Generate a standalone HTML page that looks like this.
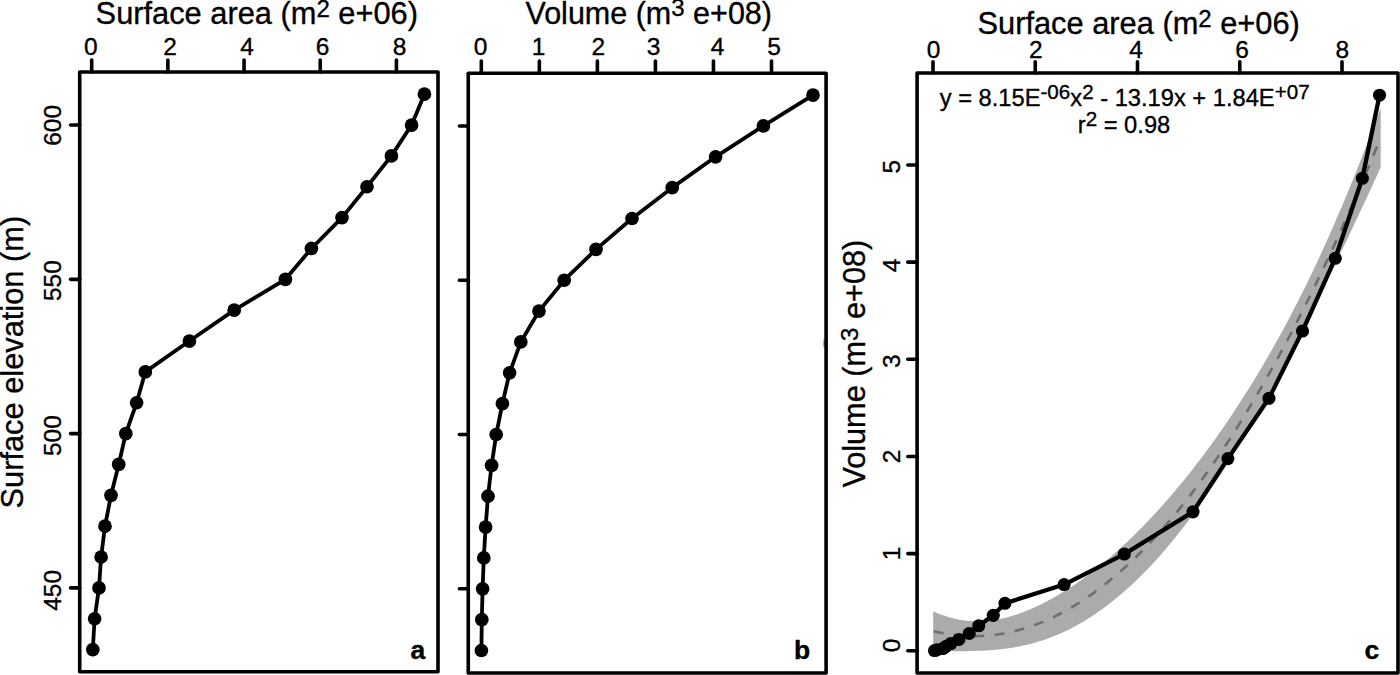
<!DOCTYPE html>
<html><head><meta charset="utf-8"><title>Figure</title>
<style>html,body{margin:0;padding:0;background:#fff;width:1400px;height:675px;overflow:hidden;font-family:"Liberation Sans", sans-serif;}text{stroke:#000;stroke-width:.35px;stroke-linejoin:round}</style></head>
<body>
<svg width="1400" height="675" viewBox="0 0 1400 675" style="position:absolute;left:0;top:0;display:block" font-family='"Liberation Sans", sans-serif' fill="#000">
<rect x="0" y="0" width="1400" height="675" fill="#fff"/>
<polygon points="933.20,611.52 936.96,613.10 940.72,614.54 944.48,615.85 948.24,617.02 952.00,618.06 955.76,618.95 959.52,619.70 963.28,620.31 967.04,620.78 970.81,621.10 974.57,621.28 978.33,621.32 982.09,621.21 985.85,620.98 989.61,620.60 993.37,620.10 997.13,619.47 1000.89,618.73 1004.65,617.88 1008.41,616.92 1012.17,615.85 1015.93,614.67 1019.69,613.39 1023.45,612.02 1027.21,610.55 1030.97,608.98 1034.73,607.32 1038.49,605.58 1042.25,603.75 1046.02,601.84 1049.78,599.84 1053.54,597.76 1057.30,595.60 1061.06,593.36 1064.82,591.04 1068.58,588.65 1072.34,586.18 1076.10,583.63 1079.86,581.01 1083.62,578.31 1087.38,575.54 1091.14,572.69 1094.90,569.77 1098.66,566.78 1102.42,563.73 1106.18,560.61 1109.94,557.42 1113.70,554.16 1117.46,550.82 1121.23,547.42 1124.99,543.94 1128.75,540.39 1132.51,536.76 1136.27,533.07 1140.03,529.30 1143.79,525.46 1147.55,521.55 1151.31,517.57 1155.07,513.54 1158.83,509.43 1162.59,505.25 1166.35,501.00 1170.11,496.67 1173.87,492.27 1177.63,487.80 1181.39,483.25 1185.15,478.63 1188.91,473.93 1192.67,469.16 1196.44,464.32 1200.20,459.40 1203.96,454.40 1207.72,449.32 1211.48,444.17 1215.24,438.93 1219.00,433.62 1222.76,428.23 1226.52,422.75 1230.28,417.20 1234.04,411.56 1237.80,405.83 1241.56,400.02 1245.32,394.12 1249.08,388.13 1252.84,382.05 1256.60,375.89 1260.36,369.63 1264.12,363.28 1267.88,356.82 1271.65,350.26 1275.41,343.59 1279.17,336.82 1282.93,329.93 1286.69,322.93 1290.45,315.82 1294.21,308.59 1297.97,301.23 1301.73,293.77 1305.49,286.21 1309.25,278.52 1313.01,270.69 1316.77,262.75 1320.53,254.67 1324.29,246.45 1328.05,238.11 1331.81,229.64 1335.57,221.04 1339.33,212.31 1343.09,203.45 1346.86,194.46 1350.62,185.34 1354.38,176.10 1358.14,166.73 1361.90,157.24 1365.66,147.62 1369.42,137.88 1373.18,128.03 1376.94,118.05 1380.70,107.95 1380.70,167.25 1376.94,175.52 1373.18,183.74 1369.42,191.91 1365.66,200.03 1361.90,208.09 1358.14,216.11 1354.38,224.08 1350.62,232.01 1346.86,239.89 1343.09,247.73 1339.33,255.52 1335.57,263.27 1331.81,270.98 1328.05,278.65 1324.29,286.28 1320.53,293.87 1316.77,301.41 1313.01,308.92 1309.25,316.38 1305.49,323.80 1301.73,331.18 1297.97,338.49 1294.21,345.73 1290.45,352.93 1286.69,360.07 1282.93,367.16 1279.17,374.19 1275.41,381.15 1271.65,388.06 1267.88,394.90 1264.12,401.67 1260.36,408.37 1256.60,414.99 1252.84,421.54 1249.08,428.02 1245.32,434.43 1241.56,440.75 1237.80,446.99 1234.04,453.15 1230.28,459.22 1226.52,465.20 1222.76,471.10 1219.00,476.90 1215.24,482.62 1211.48,488.24 1207.72,493.77 1203.96,499.21 1200.20,504.55 1196.44,509.79 1192.67,514.95 1188.91,520.00 1185.15,524.96 1181.39,529.83 1177.63,534.59 1173.87,539.26 1170.11,543.83 1166.35,548.30 1162.59,552.68 1158.83,556.95 1155.07,561.13 1151.31,565.21 1147.55,569.17 1143.79,573.03 1140.03,576.79 1136.27,580.46 1132.51,584.02 1128.75,587.48 1124.99,590.84 1121.23,594.11 1117.46,597.27 1113.70,600.34 1109.94,603.30 1106.18,606.17 1102.42,608.94 1098.66,611.62 1094.90,614.21 1091.14,616.70 1087.38,619.10 1083.62,621.40 1079.86,623.60 1076.10,625.71 1072.34,627.72 1068.58,629.63 1064.82,631.45 1061.06,633.18 1057.30,634.81 1053.54,636.35 1049.78,637.80 1046.02,639.16 1042.25,640.43 1038.49,641.62 1034.73,642.72 1030.97,643.74 1027.21,644.67 1023.45,645.53 1019.69,646.31 1015.93,647.02 1012.17,647.66 1008.41,648.23 1004.65,648.75 1000.89,649.20 997.13,649.59 993.37,649.92 989.61,650.20 985.85,650.45 982.09,650.65 978.33,650.83 974.57,650.97 970.81,651.08 967.04,651.16 963.28,651.21 959.52,651.24 955.76,651.24 952.00,651.20 948.24,651.14 944.48,651.05 940.72,650.92 936.96,650.75 933.20,650.54" fill="#ababab"/>
<polyline points="933.20,631.03 936.96,631.92 940.72,632.73 944.48,633.45 948.24,634.08 952.00,634.63 955.76,635.09 959.52,635.47 963.28,635.76 967.04,635.97 970.81,636.09 974.57,636.12 978.33,636.07 982.09,635.93 985.85,635.71 989.61,635.40 993.37,635.01 997.13,634.53 1000.89,633.96 1004.65,633.31 1008.41,632.58 1012.17,631.75 1015.93,630.85 1019.69,629.85 1023.45,628.77 1027.21,627.61 1030.97,626.36 1034.73,625.02 1038.49,623.60 1042.25,622.09 1046.02,620.50 1049.78,618.82 1053.54,617.06 1057.30,615.21 1061.06,613.27 1064.82,611.25 1068.58,609.14 1072.34,606.95 1076.10,604.67 1079.86,602.30 1083.62,599.85 1087.38,597.32 1091.14,594.70 1094.90,591.99 1098.66,589.20 1102.42,586.33 1106.18,583.39 1109.94,580.36 1113.70,577.25 1117.46,574.05 1121.23,570.76 1124.99,567.39 1128.75,563.93 1132.51,560.39 1136.27,556.76 1140.03,553.05 1143.79,549.25 1147.55,545.36 1151.31,541.39 1155.07,537.33 1158.83,533.19 1162.59,528.96 1166.35,524.65 1170.11,520.25 1173.87,515.77 1177.63,511.19 1181.39,506.54 1185.15,501.80 1188.91,496.97 1192.67,492.06 1196.44,487.06 1200.20,481.97 1203.96,476.80 1207.72,471.54 1211.48,466.20 1215.24,460.78 1219.00,455.26 1222.76,449.66 1226.52,443.98 1230.28,438.21 1234.04,432.35 1237.80,426.41 1241.56,420.39 1245.32,414.27 1249.08,408.07 1252.84,401.80 1256.60,395.44 1260.36,389.00 1264.12,382.47 1267.88,375.86 1271.65,369.16 1275.41,362.37 1279.17,355.50 1282.93,348.54 1286.69,341.50 1290.45,334.37 1294.21,327.16 1297.97,319.86 1301.73,312.48 1305.49,305.01 1309.25,297.45 1313.01,289.81 1316.77,282.08 1320.53,274.27 1324.29,266.37 1328.05,258.38 1331.81,250.31 1335.57,242.16 1339.33,233.91 1343.09,225.59 1346.86,217.17 1350.62,208.67 1354.38,200.09 1358.14,191.42 1361.90,182.66 1365.66,173.82 1369.42,164.90 1373.18,155.88 1376.94,146.79 1380.70,137.60" fill="none" stroke="#6e6e6e" stroke-width="2.6" stroke-dasharray="9.9 10.53" stroke-dashoffset="-0.6"/>
<rect x="79.7" y="72.0" width="358.30" height="599.75" fill="none" stroke="#000" stroke-width="3.6" stroke-linejoin="round"/>
<line x1="91.70" y1="60.10" x2="91.70" y2="72.00" stroke="#000" stroke-width="3.6" stroke-linecap="round" />
<text x="90.80" y="54.50" font-size="24.5" text-anchor="middle" font-weight="normal" >0</text>
<line x1="167.88" y1="60.10" x2="167.88" y2="72.00" stroke="#000" stroke-width="3.6" stroke-linecap="round" />
<text x="170.00" y="54.50" font-size="24.5" text-anchor="middle" font-weight="normal" >2</text>
<line x1="244.06" y1="60.10" x2="244.06" y2="72.00" stroke="#000" stroke-width="3.6" stroke-linecap="round" />
<text x="247.10" y="54.50" font-size="24.5" text-anchor="middle" font-weight="normal" >4</text>
<line x1="320.24" y1="60.10" x2="320.24" y2="72.00" stroke="#000" stroke-width="3.6" stroke-linecap="round" />
<text x="322.45" y="54.50" font-size="24.5" text-anchor="middle" font-weight="normal" >6</text>
<line x1="396.42" y1="60.10" x2="396.42" y2="72.00" stroke="#000" stroke-width="3.6" stroke-linecap="round" />
<text x="399.50" y="54.50" font-size="24.5" text-anchor="middle" font-weight="normal" >8</text>
<line x1="70.60" y1="587.89" x2="79.70" y2="587.89" stroke="#000" stroke-width="3.6" stroke-linecap="round" />
<text x="60.80" y="590.40" font-size="24.5" text-anchor="middle" font-weight="normal" transform="rotate(-90 60.80 590.40)" >450</text>
<line x1="70.60" y1="433.61" x2="79.70" y2="433.61" stroke="#000" stroke-width="3.6" stroke-linecap="round" />
<text x="60.80" y="435.60" font-size="24.5" text-anchor="middle" font-weight="normal" transform="rotate(-90 60.80 435.60)" >500</text>
<line x1="70.60" y1="279.33" x2="79.70" y2="279.33" stroke="#000" stroke-width="3.6" stroke-linecap="round" />
<text x="60.80" y="280.60" font-size="24.5" text-anchor="middle" font-weight="normal" transform="rotate(-90 60.80 280.60)" >550</text>
<line x1="70.60" y1="125.05" x2="79.70" y2="125.05" stroke="#000" stroke-width="3.6" stroke-linecap="round" />
<text x="60.80" y="125.40" font-size="24.5" text-anchor="middle" font-weight="normal" transform="rotate(-90 60.80 125.40)" >600</text>
<polyline points="92.80,649.60 94.60,618.74 99.00,587.89 101.10,557.03 105.00,526.18 111.00,495.32 118.70,464.46 125.80,433.61 136.60,402.75 145.30,371.90 189.40,341.04 234.20,310.18 285.40,279.33 311.40,248.47 342.00,217.62 367.00,186.76 391.40,155.90 411.60,125.05 424.40,94.19" fill="none" stroke="#000" stroke-width="3.8" stroke-linejoin="round" stroke-linecap="round"/>
<circle cx="92.80" cy="649.60" r="6.85" fill="#000"/>
<circle cx="94.60" cy="618.74" r="6.85" fill="#000"/>
<circle cx="99.00" cy="587.89" r="6.85" fill="#000"/>
<circle cx="101.10" cy="557.03" r="6.85" fill="#000"/>
<circle cx="105.00" cy="526.18" r="6.85" fill="#000"/>
<circle cx="111.00" cy="495.32" r="6.85" fill="#000"/>
<circle cx="118.70" cy="464.46" r="6.85" fill="#000"/>
<circle cx="125.80" cy="433.61" r="6.85" fill="#000"/>
<circle cx="136.60" cy="402.75" r="6.85" fill="#000"/>
<circle cx="145.30" cy="371.90" r="6.85" fill="#000"/>
<circle cx="189.40" cy="341.04" r="6.85" fill="#000"/>
<circle cx="234.20" cy="310.18" r="6.85" fill="#000"/>
<circle cx="285.40" cy="279.33" r="6.85" fill="#000"/>
<circle cx="311.40" cy="248.47" r="6.85" fill="#000"/>
<circle cx="342.00" cy="217.62" r="6.85" fill="#000"/>
<circle cx="367.00" cy="186.76" r="6.85" fill="#000"/>
<circle cx="391.40" cy="155.90" r="6.85" fill="#000"/>
<circle cx="411.60" cy="125.05" r="6.85" fill="#000"/>
<circle cx="424.40" cy="94.19" r="6.85" fill="#000"/>
<text x="95.60" y="24.20" font-size="30.8" text-anchor="start" font-weight="normal" >Surface area (m<tspan font-size="24" dy="-7.2">2</tspan><tspan dy="7.2"> e+06)</tspan></text>
<text x="23.20" y="508.50" font-size="30.8" text-anchor="start" font-weight="normal" transform="rotate(-90 23.20 508.50)" >Surface elevation (m)</text>
<text x="417.80" y="659.30" font-size="26.5" text-anchor="middle" font-weight="bold" >a</text>
<rect x="468.25" y="73.2" width="357.85" height="599.80" fill="none" stroke="#000" stroke-width="3.6" stroke-linejoin="round"/>
<line x1="481.30" y1="61.00" x2="481.30" y2="73.20" stroke="#000" stroke-width="3.6" stroke-linecap="round" />
<text x="480.65" y="54.50" font-size="24.5" text-anchor="middle" font-weight="normal" >0</text>
<line x1="539.34" y1="61.00" x2="539.34" y2="73.20" stroke="#000" stroke-width="3.6" stroke-linecap="round" />
<text x="538.50" y="54.50" font-size="24.5" text-anchor="middle" font-weight="normal" >1</text>
<line x1="597.38" y1="61.00" x2="597.38" y2="73.20" stroke="#000" stroke-width="3.6" stroke-linecap="round" />
<text x="598.35" y="54.50" font-size="24.5" text-anchor="middle" font-weight="normal" >2</text>
<line x1="655.42" y1="61.00" x2="655.42" y2="73.20" stroke="#000" stroke-width="3.6" stroke-linecap="round" />
<text x="653.65" y="54.50" font-size="24.5" text-anchor="middle" font-weight="normal" >3</text>
<line x1="713.46" y1="61.00" x2="713.46" y2="73.20" stroke="#000" stroke-width="3.6" stroke-linecap="round" />
<text x="717.60" y="54.50" font-size="24.5" text-anchor="middle" font-weight="normal" >4</text>
<line x1="771.50" y1="61.00" x2="771.50" y2="73.20" stroke="#000" stroke-width="3.6" stroke-linecap="round" />
<text x="774.10" y="54.50" font-size="24.5" text-anchor="middle" font-weight="normal" >5</text>
<line x1="459.40" y1="588.79" x2="468.25" y2="588.79" stroke="#000" stroke-width="3.6" stroke-linecap="round" />
<line x1="459.40" y1="434.51" x2="468.25" y2="434.51" stroke="#000" stroke-width="3.6" stroke-linecap="round" />
<line x1="459.40" y1="280.23" x2="468.25" y2="280.23" stroke="#000" stroke-width="3.6" stroke-linecap="round" />
<line x1="459.40" y1="125.95" x2="468.25" y2="125.95" stroke="#000" stroke-width="3.6" stroke-linecap="round" />
<polyline points="481.40,650.50 481.80,619.64 482.60,588.79 483.80,557.93 485.60,527.08 488.00,496.22 491.60,465.36 496.20,434.51 502.40,403.65 509.60,372.80 520.80,341.94 539.00,311.08 564.20,280.23 596.00,249.37 632.00,218.52 672.20,187.66 715.60,156.80 763.40,125.95 813.00,95.09" fill="none" stroke="#000" stroke-width="3.8" stroke-linejoin="round" stroke-linecap="round"/>
<circle cx="481.40" cy="650.50" r="6.85" fill="#000"/>
<circle cx="481.80" cy="619.64" r="6.85" fill="#000"/>
<circle cx="482.60" cy="588.79" r="6.85" fill="#000"/>
<circle cx="483.80" cy="557.93" r="6.85" fill="#000"/>
<circle cx="485.60" cy="527.08" r="6.85" fill="#000"/>
<circle cx="488.00" cy="496.22" r="6.85" fill="#000"/>
<circle cx="491.60" cy="465.36" r="6.85" fill="#000"/>
<circle cx="496.20" cy="434.51" r="6.85" fill="#000"/>
<circle cx="502.40" cy="403.65" r="6.85" fill="#000"/>
<circle cx="509.60" cy="372.80" r="6.85" fill="#000"/>
<circle cx="520.80" cy="341.94" r="6.85" fill="#000"/>
<circle cx="539.00" cy="311.08" r="6.85" fill="#000"/>
<circle cx="564.20" cy="280.23" r="6.85" fill="#000"/>
<circle cx="596.00" cy="249.37" r="6.85" fill="#000"/>
<circle cx="632.00" cy="218.52" r="6.85" fill="#000"/>
<circle cx="672.20" cy="187.66" r="6.85" fill="#000"/>
<circle cx="715.60" cy="156.80" r="6.85" fill="#000"/>
<circle cx="763.40" cy="125.95" r="6.85" fill="#000"/>
<circle cx="813.00" cy="95.09" r="6.85" fill="#000"/>
<text x="525.50" y="23.60" font-size="30.5" text-anchor="start" font-weight="normal" >Volume (m<tspan font-size="24" dy="-7.2">3</tspan><tspan dy="7.2"> e+08)</tspan></text>
<text x="802.10" y="659.30" font-size="26.5" text-anchor="middle" font-weight="bold" >b</text>
<rect x="823.5" y="339.5" width="1.2" height="7.5" fill="#000" opacity="0.6"/>
<rect x="917.1" y="73.05" width="480.90" height="599.95" fill="none" stroke="#000" stroke-width="3.6" stroke-linejoin="round"/>
<line x1="933.00" y1="61.80" x2="933.00" y2="73.05" stroke="#000" stroke-width="3.6" stroke-linecap="round" />
<text x="933.50" y="58.20" font-size="24.5" text-anchor="middle" font-weight="normal" >0</text>
<line x1="1035.25" y1="61.80" x2="1035.25" y2="73.05" stroke="#000" stroke-width="3.6" stroke-linecap="round" />
<text x="1035.80" y="58.20" font-size="24.5" text-anchor="middle" font-weight="normal" >2</text>
<line x1="1137.50" y1="61.80" x2="1137.50" y2="73.05" stroke="#000" stroke-width="3.6" stroke-linecap="round" />
<text x="1136.00" y="58.20" font-size="24.5" text-anchor="middle" font-weight="normal" >4</text>
<line x1="1239.75" y1="61.80" x2="1239.75" y2="73.05" stroke="#000" stroke-width="3.6" stroke-linecap="round" />
<text x="1242.00" y="58.20" font-size="24.5" text-anchor="middle" font-weight="normal" >6</text>
<line x1="1342.00" y1="61.80" x2="1342.00" y2="73.05" stroke="#000" stroke-width="3.6" stroke-linecap="round" />
<text x="1342.35" y="58.20" font-size="24.5" text-anchor="middle" font-weight="normal" >8</text>
<line x1="907.80" y1="650.75" x2="917.10" y2="650.75" stroke="#000" stroke-width="3.6" stroke-linecap="round" />
<text x="899.60" y="645.50" font-size="24.5" text-anchor="middle" font-weight="normal" transform="rotate(-90 899.60 645.50)" >0</text>
<line x1="907.80" y1="553.60" x2="917.10" y2="553.60" stroke="#000" stroke-width="3.6" stroke-linecap="round" />
<text x="899.60" y="553.50" font-size="24.5" text-anchor="middle" font-weight="normal" transform="rotate(-90 899.60 553.50)" >1</text>
<line x1="907.80" y1="456.45" x2="917.10" y2="456.45" stroke="#000" stroke-width="3.6" stroke-linecap="round" />
<text x="899.60" y="456.40" font-size="24.5" text-anchor="middle" font-weight="normal" transform="rotate(-90 899.60 456.40)" >2</text>
<line x1="907.80" y1="359.30" x2="917.10" y2="359.30" stroke="#000" stroke-width="3.6" stroke-linecap="round" />
<text x="899.60" y="361.25" font-size="24.5" text-anchor="middle" font-weight="normal" transform="rotate(-90 899.60 361.25)" >3</text>
<line x1="907.80" y1="262.15" x2="917.10" y2="262.15" stroke="#000" stroke-width="3.6" stroke-linecap="round" />
<text x="899.60" y="265.40" font-size="24.5" text-anchor="middle" font-weight="normal" transform="rotate(-90 899.60 265.40)" >4</text>
<line x1="907.80" y1="165.00" x2="917.10" y2="165.00" stroke="#000" stroke-width="3.6" stroke-linecap="round" />
<text x="899.60" y="166.75" font-size="24.5" text-anchor="middle" font-weight="normal" transform="rotate(-90 899.60 166.75)" >5</text>
<polyline points="934.48,650.53 936.89,649.86 942.80,648.52 945.62,646.51 950.85,643.50 958.90,639.48 969.24,633.45 978.77,625.75 993.27,615.36 1004.94,603.31 1064.13,584.55 1124.27,554.07 1192.99,511.87 1227.88,458.61 1268.96,398.32 1302.51,331.00 1335.26,258.32 1362.37,178.27 1379.56,95.20" fill="none" stroke="#000" stroke-width="4.3" stroke-linejoin="round" stroke-linecap="round"/>
<circle cx="934.48" cy="650.53" r="6.55" fill="#000"/>
<circle cx="936.89" cy="649.86" r="6.55" fill="#000"/>
<circle cx="942.80" cy="648.52" r="6.55" fill="#000"/>
<circle cx="945.62" cy="646.51" r="6.55" fill="#000"/>
<circle cx="950.85" cy="643.50" r="6.55" fill="#000"/>
<circle cx="958.90" cy="639.48" r="6.55" fill="#000"/>
<circle cx="969.24" cy="633.45" r="6.55" fill="#000"/>
<circle cx="978.77" cy="625.75" r="6.55" fill="#000"/>
<circle cx="993.27" cy="615.36" r="6.55" fill="#000"/>
<circle cx="1004.94" cy="603.31" r="6.55" fill="#000"/>
<circle cx="1064.13" cy="584.55" r="6.55" fill="#000"/>
<circle cx="1124.27" cy="554.07" r="6.55" fill="#000"/>
<circle cx="1192.99" cy="511.87" r="6.55" fill="#000"/>
<circle cx="1227.88" cy="458.61" r="6.55" fill="#000"/>
<circle cx="1268.96" cy="398.32" r="6.55" fill="#000"/>
<circle cx="1302.51" cy="331.00" r="6.55" fill="#000"/>
<circle cx="1335.26" cy="258.32" r="6.55" fill="#000"/>
<circle cx="1362.37" cy="178.27" r="6.55" fill="#000"/>
<circle cx="1379.56" cy="95.20" r="6.55" fill="#000"/>
<text x="977.50" y="34.20" font-size="30.8" text-anchor="start" font-weight="normal" >Surface area (m<tspan font-size="24" dy="-7.2">2</tspan><tspan dy="7.2"> e+06)</tspan></text>
<text x="865.20" y="487.60" font-size="30.7" text-anchor="start" font-weight="normal" transform="rotate(-90 865.20 487.60)" >Volume (m<tspan font-size="24" dy="-7.2">3</tspan><tspan dy="7.2"> e+08)</tspan></text>
<text x="1124.70" y="105.90" font-size="23.7" text-anchor="middle" font-weight="normal" >y = 8.15E<tspan font-size="20.6" dy="-6.6">-06</tspan><tspan dy="6.6">x</tspan><tspan font-size="20.6" dy="-6.6">2</tspan><tspan dy="6.6"> - 13.19x + 1.84E</tspan><tspan font-size="20.6" dy="-6.6">+07</tspan></text>
<text x="1124.00" y="132.90" font-size="23.7" text-anchor="middle" font-weight="normal" >r<tspan font-size="20.6" dy="-6.6">2</tspan><tspan dy="6.6"> = 0.98</tspan></text>
<text x="1371.80" y="659.30" font-size="26.5" text-anchor="middle" font-weight="bold" >c</text>
</svg>
</body></html>
